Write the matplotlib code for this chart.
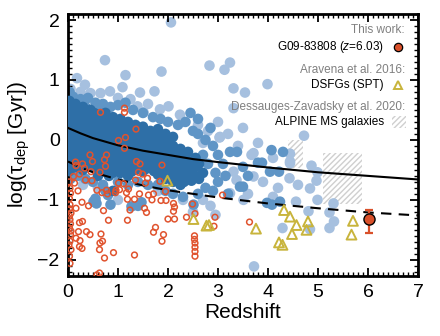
import numpy as np
import matplotlib
matplotlib.use("Agg")
import matplotlib.pyplot as plt
from matplotlib.patches import Rectangle
from matplotlib.ticker import MultipleLocator

plt.rcParams['font.family'] = ['Liberation Sans', 'DejaVu Sans']
plt.rcParams['mathtext.fontset'] = 'custom'
plt.rcParams['mathtext.rm'] = 'Liberation Sans'
plt.rcParams['mathtext.it'] = 'Liberation Sans:italic'

# ---- data (redshift, log tau_dep) ----

# literature main-sequence galaxies, dense core (dark blue)
dark_blue = [
    (0.03, 0.65), (0.03, 0.5), (0.03, 0.35), (0.03, 0.2), (0.03, 0.05), (0.03, -0.1), (0.03, -0.25), (0.03, -0.4), (0.03, -0.52),
    (0.15, 0.6), (0.15, 0.45), (0.15, 0.3), (0.15, 0.15), (0.15, 0.0), (0.15, -0.15), (0.15, -0.3), (0.15, -0.45),
    (0.3, 0.55), (0.3, 0.4), (0.3, 0.25), (0.3, 0.1), (0.3, -0.05), (0.3, -0.2), (0.3, -0.35), (0.3, -0.5),
    (0.45, 0.5), (0.45, 0.35), (0.45, 0.2), (0.45, 0.05), (0.45, -0.1), (0.45, -0.25), (0.45, -0.4),
    (0.6, 0.42), (0.6, 0.28), (0.6, 0.12), (0.6, -0.02), (0.6, -0.18), (0.6, -0.32), (0.6, -0.45), (0.6, -0.6),
    (0.75, 0.45), (0.75, 0.3), (0.75, 0.15), (0.75, 0.0), (0.75, -0.15), (0.75, -0.3), (0.75, -0.45),
    (0.9, 0.38), (0.9, 0.22), (0.9, 0.08), (0.9, -0.08), (0.9, -0.22), (0.9, -0.38), (0.9, -0.55), (0.9, -0.85),
    (1.05, 0.35), (1.05, 0.2), (1.05, 0.05), (1.05, -0.1), (1.05, -0.25), (1.05, -0.4), (1.05, -0.55),
    (1.2, 0.3), (1.2, 0.15), (1.2, 0.0), (1.2, -0.15), (1.2, -0.3), (1.2, -0.45), (1.2, -0.6),
    (1.35, 0.25), (1.35, 0.1), (1.35, -0.05), (1.35, -0.2), (1.35, -0.35), (1.35, -0.5),
    (1.5, 0.22), (1.5, 0.08), (1.5, -0.08), (1.5, -0.22), (1.5, -0.38), (1.5, -0.52),
    (1.65, 0.15), (1.65, 0.0), (1.65, -0.15), (1.65, -0.3), (1.65, -0.45),
    (1.8, 0.18), (1.8, 0.02), (1.8, -0.12), (1.8, -0.28), (1.8, -0.42), (1.8, -0.58),
    (1.95, 0.1), (1.95, -0.05), (1.95, -0.2), (1.95, -0.35), (1.95, -0.5), (1.95, -0.65),
    (2.1, 0.05), (2.1, -0.1), (2.1, -0.25), (2.1, -0.4), (2.1, -0.55), (2.1, -0.7),
    (2.25, -0.15), (2.25, -0.3), (2.25, -0.45), (2.25, -0.6), (2.25, -0.75),
    (2.4, -0.2), (2.4, -0.35), (2.4, -0.5), (2.4, -0.65),
    (2.55, -0.3), (2.55, -0.45), (2.55, -0.6), (2.7, -0.55),
    # in-between points of the same cloud
    (0.09, 0.57), (0.09, 0.42), (0.09, 0.27), (0.09, 0.12), (0.09, -0.03), (0.09, -0.18), (0.09, -0.33), (0.09, -0.46),
    (0.22, 0.52), (0.22, 0.37), (0.22, 0.22), (0.22, 0.07), (0.22, -0.08), (0.22, -0.23), (0.22, -0.38),
    (0.37, 0.47), (0.37, 0.32), (0.37, 0.17), (0.37, 0.02), (0.37, -0.13), (0.37, -0.28), (0.37, -0.43),
    (0.52, 0.45), (0.52, 0.3), (0.52, 0.15), (0.52, 0.0), (0.52, -0.15), (0.52, -0.3), (0.52, -0.45),
    (0.67, 0.37), (0.67, 0.22), (0.67, 0.07), (0.67, -0.08), (0.67, -0.23), (0.67, -0.38), (0.67, -0.53),
    (0.82, 0.32), (0.82, 0.17), (0.82, 0.02), (0.82, -0.13), (0.82, -0.28), (0.82, -0.43), (0.82, -0.6),
    (0.97, 0.3), (0.97, 0.15), (0.97, 0.0), (0.97, -0.15), (0.97, -0.3), (0.97, -0.45),
    (1.12, 0.25), (1.12, 0.1), (1.12, -0.05), (1.12, -0.2), (1.12, -0.35), (1.12, -0.5),
    (1.27, 0.22), (1.27, 0.07), (1.27, -0.08), (1.27, -0.23), (1.27, -0.38), (1.27, -0.53),
    (1.42, 0.18), (1.42, 0.03), (1.42, -0.12), (1.42, -0.27), (1.42, -0.42),
    (1.57, 0.12), (1.57, -0.03), (1.57, -0.18), (1.57, -0.33), (1.57, -0.48),
    (1.72, 0.08), (1.72, -0.07), (1.72, -0.22), (1.72, -0.37), (1.72, -0.52),
    (1.87, 0.05), (1.87, -0.1), (1.87, -0.25), (1.87, -0.4), (1.87, -0.55),
    (2.02, -0.02), (2.02, -0.17), (2.02, -0.32), (2.02, -0.47), (2.02, -0.62),
    (2.17, -0.2), (2.17, -0.35), (2.17, -0.5), (2.17, -0.65),
    (2.32, -0.25), (2.32, -0.4), (2.32, -0.55), (2.32, -0.7),
    (2.47, -0.38), (2.47, -0.53), (2.47, -0.68), (2.62, -0.4), (2.62, -0.65),
]

# surrounding samples (medium blue)
mid_blue = [
    (0.03, 0.8), (0.03, 0.75), (0.1, 0.72), (0.25, 0.68), (0.4, 0.7), (0.55, 0.62), (0.7, 0.6),
    (0.85, 0.55), (1.0, 0.58), (1.15, 0.62), (1.3, 0.5), (1.5, 0.45), (1.7, 0.38), (1.85, 0.35),
    (2.0, 0.3), (2.2, 0.25), (2.35, 0.3), (2.5, 0.15), (2.6, 0.1), (2.75, 0.0), (2.9, -0.1),
    (3.0, -0.25), (3.1, -0.4), (3.24, -0.2), (3.38, -0.2), (3.5, -0.45), (3.6, -0.6), (3.44, -0.78),
    (3.5, -0.78), (3.8, -0.38), (3.88, -0.38), (4.07, -0.17), (4.3, -0.2), (4.04, -0.53), (4.22, -0.53),
    (3.98, -1.05), (4.08, -1.08), (4.24, -1.03), (3.0, -0.7), (3.2, -0.9), (2.9, -0.85), (2.75, -0.8),
    (2.6, -0.9), (2.3, -0.95), (2.1, -0.9), (1.95, -0.85), (0.05, -0.65), (0.2, -0.6), (0.35, -0.65),
    (0.5, -0.7), (0.7, -0.75), (0.75, -0.85), (0.8, -0.92), (0.55, -0.98), (0.85, -1.08), (1.0, -0.7),
    (1.2, -0.75), (1.4, -0.7), (1.4, -1.1), (1.47, -1.04), (1.6, -0.75), (1.8, -0.75), (0.51, -1.03),
    (0.57, -1.06), (1.27, -1.11), (2.51, -1.08), (2.45, 0.45), (2.6, 0.35), (0.35, 0.55), (0.6, 0.55),
    (2.8, -0.4), (2.95, -0.55), (2.7, -0.25), (3.15, -0.6), (2.85, 0.2),
]

# scattered outliers (light blue)
light_blue = [
    (0.18, 1.03), (0.34, 0.92), (0.74, 1.33), (1.87, 1.14), (1.15, 1.08), (2.83, 1.24), (3.13, 1.17),
    (3.24, 1.29), (3.31, 0.86), (3.54, 0.79), (3.99, 0.93), (3.31, 0.53), (0.65, 0.78), (0.84, 0.81),
    (1.09, 0.88), (1.44, 0.79), (1.73, 0.81), (1.39, 0.56), (1.51, 0.46), (1.84, 0.51), (2.01, 0.56),
    (2.24, 0.42), (3.04, 0.05), (2.06, 1.96), (4.72, 0.07), (4.44, -0.23), (4.44, -0.36), (3.67, -0.25),
    (3.03, 0.04), (3.71, -0.22), (4.87, -0.43), (4.99, -0.54), (4.97, -0.68), (4.84, -0.81), (4.99, -1.0),
    (4.56, -1.03), (5.31, -1.06), (5.23, -1.21), (5.32, -1.36), (5.23, -1.47), (4.81, -1.19), (4.84, -1.49),
    (4.29, -1.47), (3.72, -2.11), (4.43, -0.64), (4.44, -0.39), (3.31, -0.53), (3.37, -0.67), (3.71, -0.61),
    (3.24, -0.89), (3.51, -1.0), (2.5, -1.2), (2.95, -1.25), (2.85, -1.1), (0.05, 0.85), (0.25, 0.8),
    (0.45, 0.78), (1.0, 0.7), (1.25, 0.68), (1.6, 0.6), (2.3, 0.3), (2.6, 0.25), (2.8, 0.15), (3.0, 0.3),
    (2.7, -0.05), (3.2, 0.1), (3.5, 0.2), (3.4, -0.1), (3.8, -0.05), (4.1, -0.3), (3.9, -0.7), (4.2, -0.8),
    (4.6, -0.75), (3.6, -0.9), (4.1, -0.95), (2.3, -1.0), (2.7, -1.0), (1.0, -1.0), (1.8, -0.85),
    (0.3, -0.75), (0.6, -0.8),
]

# starbursts / SMGs (red open circles)
red_open = [
    (0.65, 0.46), (1.13, 0.53), (1.13, 0.46), (1.36, 0.18), (1.01, -0.01), (1.15, 0.04), (1.13, -0.14),
    (0.44, -0.25), (0.15, -0.37), (0.29, -0.4), (0.49, -0.36), (0.73, -0.33), (0.77, -0.25), (1.37, -0.36),
    (1.44, -0.4), (1.88, -0.42), (0.75, -0.44), (0.33, -0.47), (0.16, -0.43), (0.46, -0.53), (0.23, -0.57),
    (0.64, -0.54), (0.11, -0.61), (0.35, -0.67), (0.48, -0.68), (1.41, -0.54), (1.49, -0.57), (1.59, -0.64),
    (1.55, -0.72), (1.35, -0.67), (1.01, -0.72), (1.11, -0.73), (0.96, -0.84), (1.03, -0.83), (0.95, -0.88),
    (1.17, -0.88), (1.21, -0.82), (1.43, -0.9), (1.61, -0.92), (1.71, -0.9), (1.95, -0.86), (0.68, -0.88),
    (0.77, -0.84), (0.79, -0.9), (0.58, -0.84), (1.19, -0.99), (1.33, -0.99), (1.68, -1.0), (1.86, -1.01),
    (1.96, -1.01), (2.11, -1.06), (2.13, -1.12), (2.11, -1.19), (0.16, -1.14), (0.28, -1.04), (0.41, -1.1),
    (0.04, -0.81), (0.05, -0.89), (0.03, -0.98), (0.04, -1.08), (0.06, -1.22), (0.04, -1.33), (0.03, -1.47),
    (0.05, -1.58), (0.04, -1.69), (0.06, -1.83), (0.03, -1.94), (0.04, -2.06), (0.02, -0.7), (0.03, -1.15),
    (0.05, -1.4), (0.02, -1.75), (0.06, -1.52), (0.03, -1.27), (1.24, -1.17), (1.53, -1.14), (1.57, -1.21),
    (1.19, -1.34), (0.81, -1.34), (0.29, -1.36), (0.23, -1.38), (0.21, -1.53), (0.37, -1.53), (0.44, -1.58),
    (0.16, -1.64), (0.24, -1.68), (0.23, -1.78), (0.28, -1.81), (0.66, -1.57), (0.69, -1.69), (0.64, -1.72),
    (0.63, -1.83), (0.73, -1.97), (0.91, -1.88), (1.33, -1.92), (1.75, -1.46), (1.71, -1.54), (1.91, -1.58),
    (1.88, -1.69), (2.0, -1.32), (2.13, -1.32), (0.63, -2.22), (0.71, -1.18), (1.84, -0.69), (2.37, -1.29),
    (2.54, -1.23), (3.09, -0.92), (2.49, -1.07), (2.94, -1.29), (2.92, -1.44), (3.63, -1.37), (2.53, -1.6),
    (2.53, -1.66), (2.54, -1.72), (2.54, -1.79), (2.54, -1.86), (2.54, -1.94), (0.13, -0.72), (0.2, -0.85),
    (0.58, -2.25),
]

# Aravena et al. 2016, SPT DSFGs
spt_z = [1.99, 2.51, 2.77, 2.82, 3.76, 4.22, 4.29, 4.32, 4.44, 4.48, 4.57, 4.77, 4.8, 5.67, 5.7]
spt_y = [-0.68, -1.32, -1.43, -1.42, -1.48, -1.71, -1.75, -1.17, -1.28, -1.57, -1.42, -1.5, -1.36, -1.58, -1.35]

# ALPINE MS galaxies (z range, log tau range)
alpine_z = [(4.4, 4.7), (5.1, 5.88)]
alpine_y = [(-0.47, 0.0), (-1.07, -0.22)]

# G09-83808
g09_z = 6.03
g09_y = -1.32
g09_err_lo = 0.23
g09_err_hi = 0.15

# scaling relations
curve_z = [0, 0.25, 0.5, 0.75, 1, 1.5, 2, 2.5, 3, 4, 5, 6, 7]
ms_curve = [0.2, 0.11, 0.03, -0.03, -0.09, -0.18, -0.25, -0.32, -0.37, -0.46, -0.54, -0.6, -0.66]
sb_curve = [-0.36, -0.46, -0.54, -0.6, -0.66, -0.76, -0.84, -0.9, -0.96, -1.06, -1.14, -1.21, -1.26]

# ---- plot ----
fig = plt.figure(figsize=(4.4, 3.36), dpi=100)
ax = fig.add_axes([0.1545, 0.1786, 0.7955, 0.7797])

# ALPINE hatched boxes
for (z0, z1), (y0, y1) in zip(alpine_z, alpine_y):
    ax.add_patch(Rectangle((z0, y0), z1 - z0, y1 - y0, fill=False, hatch='//////',
                           edgecolor='#cfcfcf', linewidth=0, zorder=0))

light = np.array(light_blue)
mid = np.array(mid_blue)
dark = np.array(dark_blue)
ax.scatter(light[:, 0], light[:, 1], s=58, color='#a6c0df', edgecolors='none', zorder=1)
ax.scatter(mid[:, 0], mid[:, 1], s=58, color='#5f95c6', edgecolors='none', zorder=2)
ax.scatter(dark[:, 0], dark[:, 1], s=58, color='#2e6fa7', edgecolors='none', zorder=3)

# MS and starburst relations
ax.plot(curve_z, ms_curve, color='black', lw=1.5, zorder=4)
ax.plot(curve_z, sb_curve, color='black', lw=1.5, dashes=(5, 3.5), zorder=4)

red = np.array(red_open)
ax.scatter(red[:, 0], red[:, 1], s=17, facecolors='none', edgecolors='#e0532e', linewidths=1.1, zorder=5)
ax.scatter(spt_z, spt_y, s=50, marker='^', facecolors='none', edgecolors='#c8b43c', linewidths=1.4, zorder=6)

ax.errorbar([g09_z], [g09_y], yerr=[[g09_err_lo], [g09_err_hi]], fmt='none', ecolor='#d9502a',
            elinewidth=1.6, capsize=3, capthick=1.6, zorder=7)
ax.plot([g09_z], [g09_y], 'o', ms=8, mfc='#d9502a', mec='black', mew=1.0, zorder=8)

# legend drawn by hand (headers + entries, right aligned)
tr = ax.transAxes
ax.text(0.963, 0.939, 'This work:', transform=tr, ha='right', va='center', fontsize=8.5, color='#808080')
ax.text(0.903, 0.874, 'G09-83808 ($\\mathit{z}$=6.03)', transform=tr, ha='right', va='center', fontsize=8.5)
ax.plot([0.943], [0.874], 'o', transform=tr, ms=6, mfc='#d9502a', mec='black', mew=0.9, clip_on=False)
ax.text(0.963, 0.786, 'Aravena et al. 2016:', transform=tr, ha='right', va='center', fontsize=8.5, color='#808080')
ax.text(0.903, 0.729, 'DSFGs (SPT)', transform=tr, ha='right', va='center', fontsize=8.5)
ax.plot([0.943], [0.729], '^', transform=tr, ms=5.5, mfc='none', mec='#c8b43c', mew=1.4)
ax.text(0.963, 0.645, 'Dessauges-Zavadsky et al. 2020:', transform=tr, ha='right', va='center',
        fontsize=8.5, color='#808080')
ax.text(0.903, 0.588, 'ALPINE MS galaxies', transform=tr, ha='right', va='center', fontsize=8.5)
ax.add_patch(Rectangle((0.925, 0.565), 0.04, 0.045, transform=tr, fill=False, hatch='//////',
                       edgecolor='#cfcfcf', linewidth=0))

# axes cosmetics
ax.set_xlim(0, 7)
ax.set_ylim(-2.27, 2.1)
ax.xaxis.set_major_locator(MultipleLocator(1))
ax.xaxis.set_minor_locator(MultipleLocator(0.1))
ax.yaxis.set_major_locator(MultipleLocator(1))
ax.yaxis.set_minor_locator(MultipleLocator(0.1))
ax.tick_params(which='both', direction='in', top=True, right=True, labelsize=14)
ax.tick_params(which='major', length=6, width=1.3, pad=6)
ax.tick_params(which='minor', length=3, width=1.0)
for sp in ax.spines.values():
    sp.set_linewidth(2)

ax.set_xlabel('Redshift', fontsize=15, labelpad=1)
ax.set_ylabel('log(τ$_\\mathregular{dep}$ [Gyr])', fontsize=15, labelpad=4)

plt.savefig('out.png', dpi=100)
